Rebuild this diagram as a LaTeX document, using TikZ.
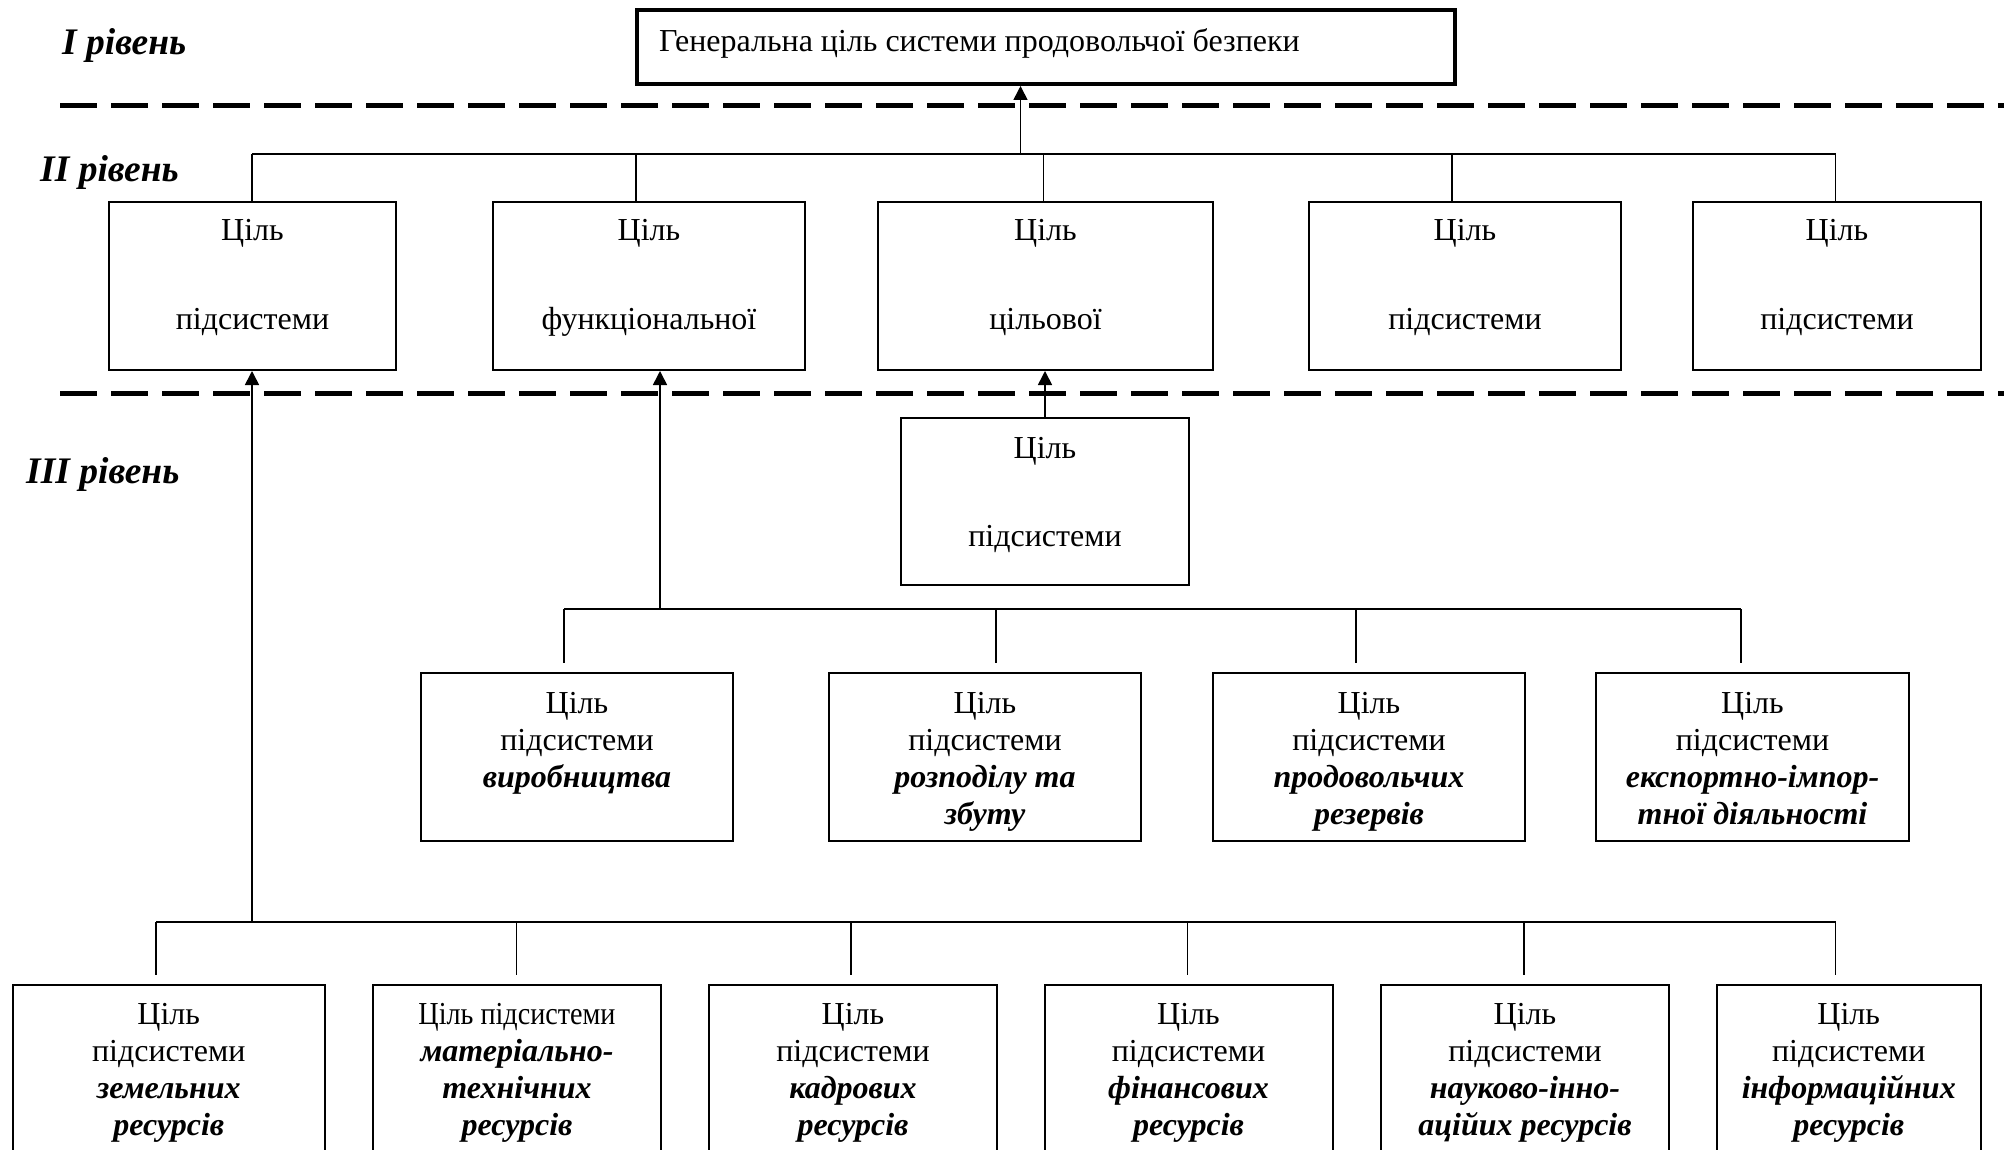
\documentclass[tikz,border=0pt]{standalone}
\usepackage{fontspec}
\setmainfont{Liberation Serif}
\usepackage{graphicx}
\usetikzlibrary{arrows.meta}
\newcommand{\rf}{\fontsize{32}{37}\selectfont}
\newcommand{\bi}[1]{\textbf{\textit{#1}}}
\newcommand{\fl}[1]{\rule{0pt}{#1}}
\newcommand{\gbox}[3]{\parbox[t][#2][t]{#1}{\centering #3}}
\tikzset{
  goal/.style={draw, line width=2pt, inner sep=0pt, anchor=north west, font=\rf},
  topgoal/.style={goal, line width=4pt},
  lvl/.style={anchor=base west, inner sep=0pt, font=\fontsize{37.5}{42}\selectfont\bfseries\itshape},
  conn/.style={line width=1.6pt},
  up/.style={conn, -{Triangle[length=14pt,width=14pt]}},
  sep/.style={line width=5pt, dash pattern=on 37pt off 14pt},
}
\begin{document}
\begin{tikzpicture}[x=1pt,y=-1pt]
\useasboundingbox (0,0) rectangle (2004,1150);
\clip (0,0) rectangle (2004,1150);

% level labels
\node[lvl] (l1) at (62,55) {I рівень};
\node[lvl] (l2) at (40,182) {II рівень};
\node[lvl] (l3) at (26,483) {III рівень};

% separators
\coordinate (s1a) at (60,106);  \coordinate (s1b) at (2004,106);
\coordinate (s2a) at (60,393);  \coordinate (s2b) at (2004,393);
\draw[sep] (s1a) -- (s1b);
\draw[sep] (s2a) -- (s2b);

% level I
\node[topgoal] (top) at (635,8) {\parbox[t][74pt][t]{818pt}{\raggedright\hspace*{22pt}\fl{42pt}Генеральна ціль системи продовольчої безпеки}};

% level II
\node[goal] (A) at (108,201) {\gbox{287pt}{168pt}{\fl{39pt}Ціль\\[52pt]підсистеми}};
\node[goal] (B) at (492,201) {\gbox{312pt}{168pt}{\fl{39pt}Ціль\\[52pt]функціональної}};
\node[goal] (C) at (877,201) {\gbox{335pt}{168pt}{\fl{39pt}Ціль\\[52pt]цільової}};
\node[goal] (D) at (1308,201) {\gbox{312pt}{168pt}{\fl{39pt}Ціль\\[52pt]підсистеми}};
\node[goal] (E) at (1692,201) {\gbox{288pt}{168pt}{\fl{39pt}Ціль\\[52pt]підсистеми}};

% level III middle
\node[goal] (M) at (900,417) {\gbox{288pt}{167pt}{\fl{40pt}Ціль\\[51pt]підсистеми}};

% level III functional
\node[goal] (F1) at (420,672) {\gbox{312pt}{168pt}{\fl{40pt}Ціль\\підсистеми\\\bi{виробництва}}};
\node[goal] (F2) at (828,672) {\gbox{312pt}{168pt}{\fl{40pt}Ціль\\підсистеми\\\bi{розподілу та}\\\bi{збуту}}};
\node[goal] (F3) at (1212,672) {\gbox{312pt}{168pt}{\fl{40pt}Ціль\\підсистеми\\\bi{продовольчих}\\\bi{резервів}}};
\node[goal] (F4) at (1595,672) {\gbox{313pt}{168pt}{\fl{40pt}Ціль\\підсистеми\\\bi{експортно-імпор-}\\\bi{тної діяльності}}};

% bottom resources
\node[goal] (R1) at (11.5,984) {\gbox{312.5pt}{220pt}{\fl{39pt}Ціль\\підсистеми\\\bi{земельних}\\\bi{ресурсів}}};
\node[goal] (R2) at (372,984) {\gbox{288pt}{220pt}{\fl{39pt}\scalebox{0.88}[1]{Ціль підсистеми}\\\bi{матеріально-}\\\bi{технічних}\\\bi{ресурсів}}};
\node[goal] (R3) at (708,984) {\gbox{288pt}{220pt}{\fl{39pt}Ціль\\підсистеми\\\bi{кадрових}\\\bi{ресурсів}}};
\node[goal] (R4) at (1043.5,984) {\gbox{288pt}{220pt}{\fl{39pt}Ціль\\підсистеми\\\bi{фінансових}\\\bi{ресурсів}}};
\node[goal] (R5) at (1380,984) {\gbox{288pt}{220pt}{\fl{39pt}Ціль\\підсистеми\\\bi{науково-інно-}\\\bi{аційих ресурсів}}};
\node[goal] (R6) at (1716,984) {\gbox{263.5pt}{220pt}{\fl{39pt}Ціль\\підсистеми\\\bi{інформаційних}\\\bi{ресурсів}}};

% level II connectors
\coordinate (h2a) at (252,154);
\coordinate (h2b) at (636,154);
\coordinate (h2c) at (1043.5,154);
\coordinate (h2d) at (1452,154);
\coordinate (h2e) at (1835.5,154);
\coordinate (h2t) at (1020.5,154);
\draw[conn] (h2a) -- (h2e);
\draw[conn] (h2a) -- (h2a |- A.north);
\draw[conn] (h2b) -- (h2b |- B.north);
\draw[conn] (h2c) -- (h2c |- C.north);
\draw[conn] (h2d) -- (h2d |- D.north);
\draw[conn] (h2e) -- (h2e |- E.north);
\draw[up] (h2t) -- (h2t |- top.south);

% middle box to C
\draw[up] (M.north) -- (M.north |- C.south);

% level III connectors
\coordinate (h3a) at (564,609);
\coordinate (h3b) at (996,609);
\coordinate (h3c) at (1356,609);
\coordinate (h3d) at (1741,609);
\coordinate (h3t) at (660,609);
\coordinate (e3a) at (564,663);
\coordinate (e3b) at (996,663);
\coordinate (e3c) at (1356,663);
\coordinate (e3d) at (1741,663);
\draw[conn] (h3a) -- (h3d);
\draw[conn] (h3a) -- (e3a);
\draw[conn] (h3b) -- (e3b);
\draw[conn] (h3c) -- (e3c);
\draw[conn] (h3d) -- (e3d);
\draw[up] (h3t) -- (h3t |- B.south);

% bottom connectors
\coordinate (h4a) at (156,922);
\coordinate (h4b) at (516.6,922);
\coordinate (h4c) at (851,922);
\coordinate (h4d) at (1187.6,922);
\coordinate (h4e) at (1523.7,922);
\coordinate (h4f) at (1835.5,922);
\coordinate (h4t) at (252,922);
\coordinate (e4a) at (156,975);
\coordinate (e4b) at (516.6,975);
\coordinate (e4c) at (851,975);
\coordinate (e4d) at (1187.6,975);
\coordinate (e4e) at (1523.7,975);
\coordinate (e4f) at (1835.5,975);
\draw[conn] (h4a) -- (h4f);
\draw[conn] (h4a) -- (e4a);
\draw[conn] (h4b) -- (e4b);
\draw[conn] (h4c) -- (e4c);
\draw[conn] (h4d) -- (e4d);
\draw[conn] (h4e) -- (e4e);
\draw[conn] (h4f) -- (e4f);
\draw[up] (h4t) -- (h4t |- A.south);
\end{tikzpicture}
\end{document}
